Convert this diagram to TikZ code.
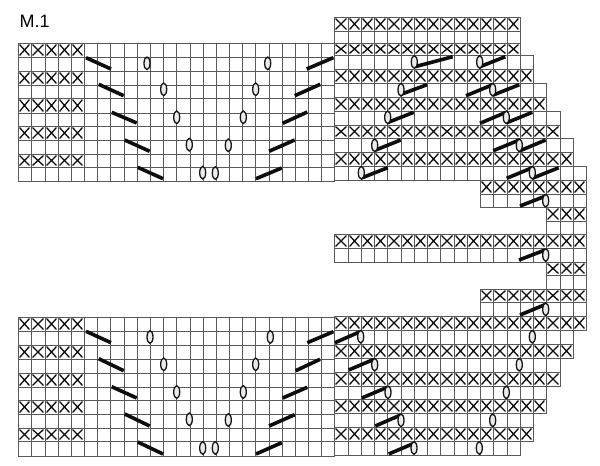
\documentclass[tikz,border=0pt]{standalone}
\usepackage{fontspec}
\setmainfont{Liberation Sans}
\tikzset{
  gridline/.style={draw=black!65,line width=0.95pt},
  crossline/.style={draw=black!95,line width=1.3pt},
  bar/.style={draw=black!95,line width=3.6pt},
  yarnover/.style={draw=black!92,fill=black!8,line width=1.3pt},
}
% \cellrow{x0}{dx}{first k}{last k (excl)}{ytop}{ybot}{1=cross}
\newcommand{\cellrow}[7]{%
  \pgfmathtruncatemacro{\lastk}{#4-1}%
  \pgfmathsetmacro{\ya}{round(#5)}%
  \pgfmathsetmacro{\yb}{round(#6)}%
  \foreach \k in {#3,...,\lastk}{%
    \pgfmathsetmacro{\xa}{round(#1+#2*\k)}%
    \pgfmathsetmacro{\xb}{round(#1+#2*(\k+1))}%
    \draw[gridline] (\xa,\ya) rectangle (\xb,\yb);%
    \ifnum#7=1
      \draw[crossline] (\xa+1.6,\ya+1.6) -- (\xb-1.6,\yb-1.6) (\xa+1.6,\yb-1.6) -- (\xb-1.6,\ya+1.6);%
    \fi
  }%
}
\begin{document}
\begin{tikzpicture}[x=1pt,y=-1pt]
\useasboundingbox (0,0) rectangle (600,466);
\fill[white] (0,0) rectangle (600,466);
\node[anchor=base west,inner sep=0pt,font=\fontsize{18}{18}\selectfont] (title) at (19.5,27.3) {M.1};

% left blocks
\foreach \ytop/\ybot/\c in {42.7/56.7/1,56.7/70.7/0,70.7/84.7/1,84.7/98.3/0,98.3/112.7/1,112.7/125.7/0,125.7/140/1,140/154/0,154/167.3/1,167.3/181.3/0,
                        316.7/330.7/1,330.7/344.7/0,344.7/358.7/1,358.7/372.7/0,372.7/386.7/1,386.7/400/0,400/414/1,414/428/0,428/441.3/1,441.3/455.7/0}{
  \cellrow{18.3}{13.17}{0}{5}{\ytop}{\ybot}{\c}
  \cellrow{18.3}{13.17}{5}{24}{\ytop}{\ybot}{0}
}

% right blocks
\def\RX{334.3}\def\RD{13.25}
\foreach \ytop/\ybot/\from/\to/\c in {
  16.7/30.7/0/14/1, 30.7/42.7/0/14/0, 42.7/55/0/14/1, 55/69/0/15/0, 69/82.7/0/15/1,
  82.7/96.7/0/16/0, 96.7/110.7/0/16/1, 110.7/124.7/0/17/0, 124.7/138.3/0/17/1,
  138.3/152.3/0/18/0, 152.3/166/0/18/1, 166/180/0/19/0,
  180/194/11/19/1, 194/207.3/11/19/0, 207.3/221/16/19/1, 221/234.3/16/19/0,
  234.3/248/0/19/1, 248/261.7/0/19/0, 261.7/275.3/16/19/1, 275.3/289/16/19/0,
  289/302.3/11/19/1, 302.3/316/11/19/0, 316/330.3/0/19/1,
  330.3/344.3/0/18/0, 344.3/358.3/0/18/1, 358.3/372/0/17/0, 372/386/0/17/1,
  386/399.3/0/16/0, 399.3/413.3/0/16/1, 413.3/427.3/0/15/0, 427.3/441/0/15/1, 441/455/0/14/0}{
  \cellrow{\RX}{\RD}{\from}{\to}{\ytop}{\ybot}{\c}
}

% bars: top-left, falling and rising
\foreach \xa/\ya/\xb/\yb in {
  86/57.7/111/69, 98.7/84.3/123.7/95.7, 111.7/112.3/136.7/123, 124.7/140/149.7/151.3, 137.7/167.3/163/178.7,
  256/178.7/281.7/168, 269/151.3/294.7/140, 282.7/123.3/307.3/112, 294.7/95.7/320.3/84.3, 306.7/69/333.3/57.7,
  % top-right
  415/66.7/452.7/56.7, 480/66.7/505.3/56.7,
  400/94.7/427/84.7, 466/95.7/492.7/84.7, 493.3/95/519.3/84.7,
  387.3/122.7/413.7/112.3, 480/123.3/506/112.3, 506.7/122.7/532.3/112.3,
  374/150.7/400.7/140, 493.3/150.7/519.3/140, 520/150.7/545.7/140,
  360.7/178.3/387.7/167.7, 506.7/178.3/532.3/167.7, 532.3/178.3/558.7/167.7,
  % middle right
  520/206/545.7/196, 519/260/545/250, 520/315/545.7/304.3,
  % bottom-left
  86/331.3/111/342.7, 98.7/358.7/123.7/370.7, 111.7/386.7/136.7/398, 124.7/414/149.7/426, 137.7/442/163/454,
  256/454/281.7/442.7, 269/426/294.7/414.7, 282.7/398/307.3/387.3, 295.7/370.7/320/359.3, 307.3/342.7/333.3/331.7,
  % bottom-right
  335/342.7/360/331.7, 348.7/370/374/359.3, 361.7/398/387.3/387.3, 375.3/426/400.7/415, 388.7/454/414/443.3}{
  \draw[bar] (\xa,\ya) -- (\xb,\yb);
}

% yarn-overs
\foreach \x/\y in {
  147/63.3, 163.7/89.3, 176.7/117.3, 189.3/144.7, 202.7/172.7, 215.3/173, 228.3/145.3, 243.3/117.3, 255.7/89.3, 267.7/63.3,
  414.3/62, 479.7/62, 401/89.7, 492.7/89.7, 387.7/117.3, 506.3/117.3, 374.7/145.3, 519.3/145.3, 361.3/172.7, 532.3/172.7,
  545.7/200.7, 545.7/255, 545.7/309.3,
  150/337, 163.7/364.3, 176.7/392, 189.3/419.3, 202.7/448, 215.3/448, 228.3/420, 243.3/392, 255.7/364.3, 270.3/337,
  360.7/336.7, 374.7/364.7, 388/392.3, 401/420.3, 414/448, 532.3/336.7, 519.3/364.7, 506.3/392.3, 492.7/420.3, 479.3/448}{
  \draw[yarnover] (\x,\y) ellipse (3 and 6.3);
}
\end{tikzpicture}
\end{document}
